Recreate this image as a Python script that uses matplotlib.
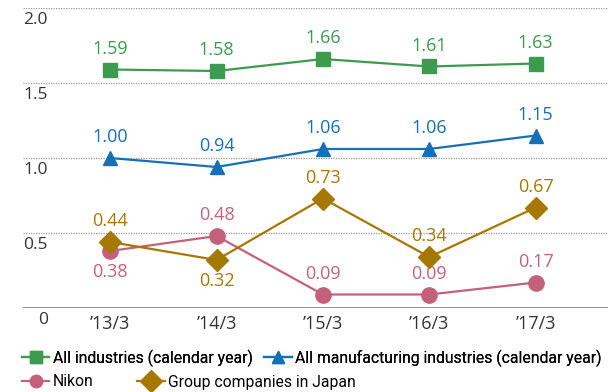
#!/usr/bin/env python3
"""Ratio of employees with disabilities: Nikon vs group and national averages."""
import matplotlib
matplotlib.use("Agg")
import matplotlib.pyplot as plt
from matplotlib.lines import Line2D
from matplotlib.transforms import ScaledTranslation, blended_transform_factory

plt.rcParams["font.family"] = ["Open Sans", "DejaVu Sans"]

periods = ["\u201913/3", "\u201914/3", "\u201915/3", "\u201916/3", "\u201917/3"]
all_industries = [1.59, 1.58, 1.66, 1.61, 1.63]
all_manufacturing = [1.00, 0.94, 1.06, 1.06, 1.15]
nikon = [0.38, 0.48, 0.09, 0.09, 0.17]
group_japan = [0.44, 0.32, 0.73, 0.34, 0.67]

# label above (+1) or below (-1) each point
nikon_side = [-1, 1, 1, 1, 1]
group_side = [1, -1, 1, 1, 1]

yticks = [0, 0.5, 1.0, 1.5, 2.0]
ytick_labels = ["0", "0.5", "1.0", "1.5", "2.0"]

GREEN = "#3d9b50"
BLUE = "#1670b8"
PINK = "#c3617b"
GOLD = "#a57800"

series = [
    ("All industries (calendar year)", all_industries, GREEN, "s", 10.5, [1] * 5),
    ("All manufacturing industries (calendar year)", all_manufacturing, BLUE, "^", 10.5, [1] * 5),
    ("Nikon", nikon, PINK, "o", 11, nikon_side),
    ("Group companies in Japan", group_japan, GOLD, "D", 11, group_side),
]

fig = plt.figure(figsize=(6.14, 3.92), dpi=100)
ax = fig.add_axes([23 / 614, 84 / 392, 585 / 614, 300 / 392])
x = list(range(len(periods)))
ax.set_xlim(-0.82, 4.68)
ax.set_ylim(0, 2.0)

for yv in yticks[1:]:
    ax.axhline(yv, color="#9a9a9a", lw=0.9, ls=(0, (1, 1)), zorder=0)
ax.axhline(0, color="#8c8c8c", lw=1.3, zorder=0)

# y labels sit just under their gridline
tr = blended_transform_factory(fig.transFigure, ax.transData) + \
    ScaledTranslation(0, -3 / 72, fig.dpi_scale_trans)
for yv, lab in zip(yticks, ytick_labels):
    ax.text(48 / 614, yv, lab, transform=tr, ha="right", va="top",
            fontsize=12.5, color="#333333")

for name, vals, color, marker, ms, side in series:
    ax.plot(x, vals, color=color, lw=1.6, marker=marker, ms=ms, zorder=3,
            clip_on=False)
    for xi, v, s in zip(x, vals, side):
        ax.annotate(f"{v:.2f}", (xi, v), xytext=(0, 15 * s), textcoords="offset points",
                    ha="center", va="center", fontsize=13, color=color)

ax.set_xticks(x)
ax.set_xticklabels(periods, fontsize=13, color="#333333")
ax.tick_params(axis="x", length=0, pad=5)
ax.set_yticks([])
for sp in ax.spines.values():
    sp.set_visible(False)

leg_ms = [8, 9, 9, 11]
handles = [Line2D([], [], color=s[2], lw=1.6, marker=s[3], ms=m) for s, m in zip(series, leg_ms)]
labels = [s[0] for s in series]
leg_kw = dict(frameon=False, handlelength=1.75, handletextpad=0.2,
              borderaxespad=0, borderpad=0, ncol=2,
              prop=dict(family=["Roboto", "Open Sans"], size=11.3))
leg1 = fig.legend(handles[:2], labels[:2], loc="center left", columnspacing=0.75,
                  bbox_to_anchor=(22 / 614, 1 - 358 / 392), **leg_kw)
fig.add_artist(leg1)
fig.legend(handles[2:], labels[2:], loc="center left", columnspacing=2.8,
           bbox_to_anchor=(22 / 614, 1 - 382 / 392), **leg_kw)

fig.savefig("out.png", dpi=100)
